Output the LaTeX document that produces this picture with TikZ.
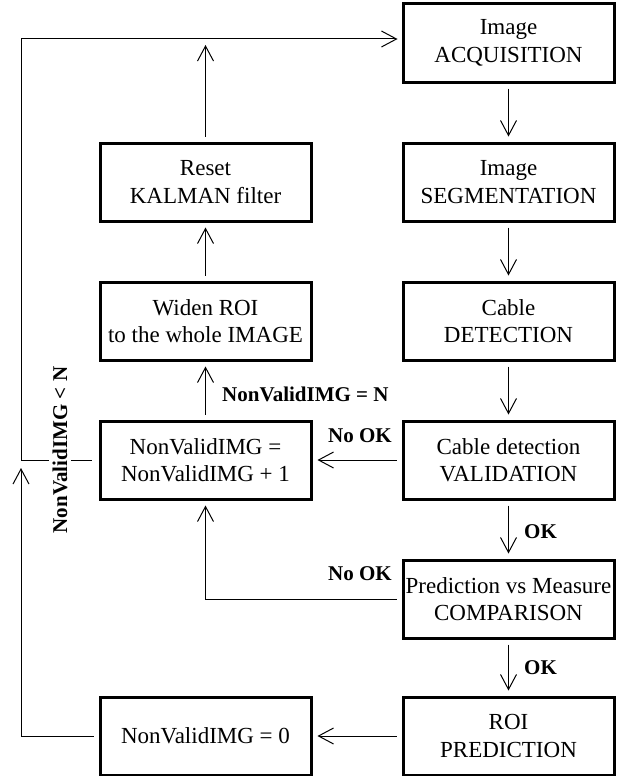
\documentclass[tikz,border=0pt]{standalone}
\usepackage{fontspec}
\setmainfont{Liberation Serif}
\usetikzlibrary{arrows.meta}
\begin{document}
\begin{tikzpicture}[x=1pt,y=-1pt,
  stage/.style={draw, line width=3pt, minimum width=211pt, minimum height=78pt,
    align=center, inner sep=0pt, font=\fontsize{23}{27.5}\selectfont},
  flow/.style={line width=1pt, shorten <=5pt, shorten >=5pt,
    -{Straight Barb[length=15pt,width=16pt]}},
  tag/.style={font=\bfseries\fontsize{21}{25}\selectfont, inner sep=0pt}]
\useasboundingbox (0,0) rectangle (616,776);

% processing chain (right column)
\node[stage] (acq) at (508.5,43)  {Image\\ACQUISITION};
\node[stage] (seg) at (508.5,182) {Image\\SEGMENTATION};
\node[stage] (det) at (508.5,321) {Cable\\DETECTION};
\node[stage] (val) at (508.5,460) {Cable detection\\VALIDATION};
\node[stage] (cmp) at (508.5,599) {Prediction vs Measure\\COMPARISON};
\node[stage] (roi) at (508.5,736) {ROI\\PREDICTION};

% recovery branch (left column)
\node[stage] (rst) at (205.5,182) {Reset\\KALMAN filter};
\node[stage] (wid) at (205.5,321) {Widen ROI\\to the whole IMAGE};
\node[stage] (inc) at (205.5,460) {NonValidIMG =\\NonValidIMG + 1};
\node[stage] (zro) at (205.5,736) {NonValidIMG = 0};

% return loop corners
\coordinate (top) at (21,39);
\coordinate (jn)  at (21,460);

% main chain
\draw[flow] (acq) -- (seg);
\draw[flow] (seg) -- (det);
\draw[flow] (det) -- (val);
\draw[flow] (val) -- (cmp);
\draw[flow] (cmp) -- (roi);

% branches
\draw[flow] (val) -- (inc);
\draw[flow] (cmp.west) -| (inc.south);
\draw[flow] (roi) -- (zro);
\draw[flow] (inc) -- (wid);
\draw[flow] (wid) -- (rst);
\draw[flow, shorten >=6pt] (rst) -- (rst |- top);

% loop back to acquisition
\draw[flow, shorten <=7pt, shorten >=4pt] (inc.west) -- (jn) |- (acq.west |- top);
\draw[flow, shorten >=8pt] (zro.west) -| (jn);

% labels
\node[tag, anchor=base] (nok1) at (360,442) {No OK};
\node[tag, anchor=base] (nok2) at (360,580) {No OK};
\node[tag, anchor=base west] (ok1) at (524,538) {OK};
\node[tag, anchor=base west] (ok2) at (524,674) {OK};
\node[tag, anchor=base west] (eqN) at (222,401) {NonValidIMG = N};
\node[tag, fill=white, inner sep=4pt, rotate=90] (ltN) at (60,450) {NonValidIMG < N};
\end{tikzpicture}
\end{document}
